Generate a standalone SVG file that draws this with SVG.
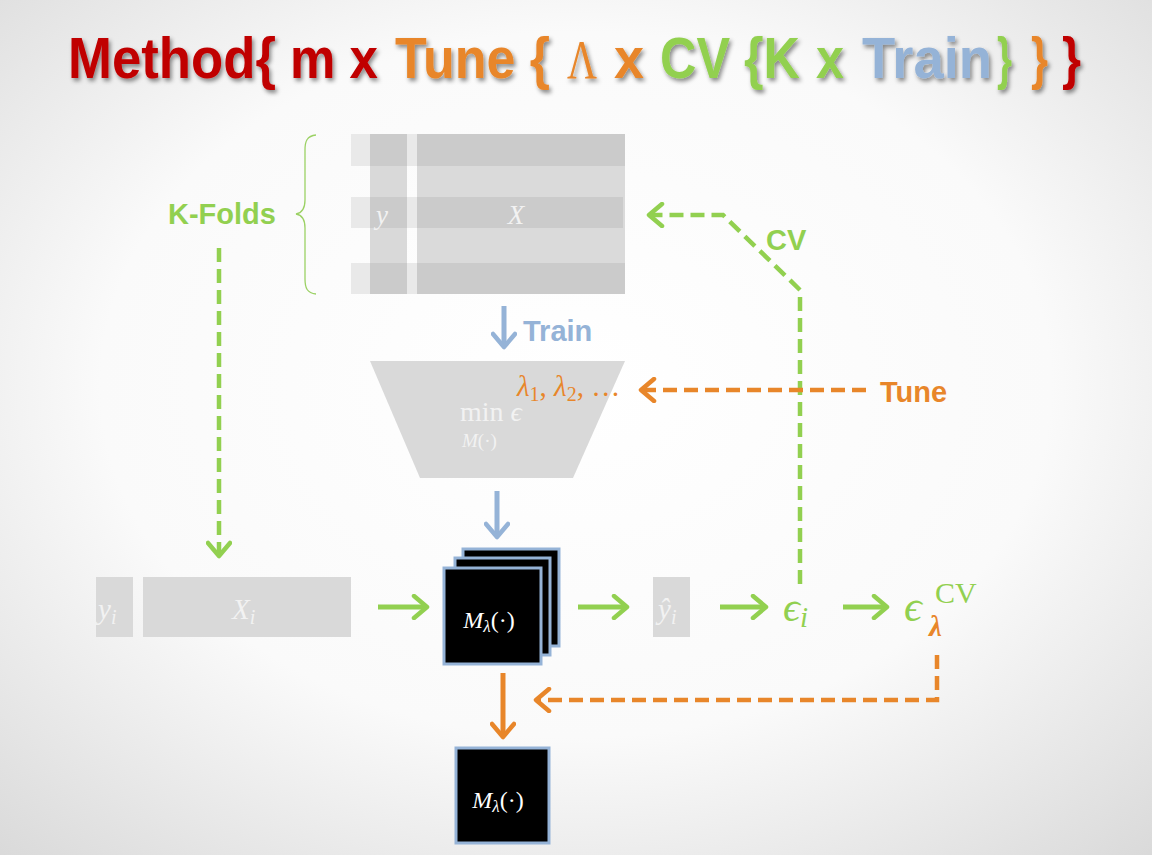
<svg xmlns="http://www.w3.org/2000/svg" width="1152" height="855" viewBox="0 0 1152 855">
<defs>
<radialGradient id="bg" cx="50%" cy="45%" r="75%">
<stop offset="0" stop-color="#ffffff"/>
<stop offset="0.55" stop-color="#fafafa"/>
<stop offset="1" stop-color="#d9d9d9"/>
</radialGradient>
<filter id="shadow" x="-10%" y="-20%" width="120%" height="150%">
<feDropShadow dx="2" dy="3" stdDeviation="2" flood-color="#000" flood-opacity="0.45"/>
</filter>
<marker id="hg" viewBox="0 0 20 26" refX="17" refY="13" markerWidth="20" markerHeight="26" markerUnits="userSpaceOnUse" orient="auto">
<path d="M4,2 L17,13 L4,24" fill="none" stroke="#92d050" stroke-width="4.5" stroke-linecap="round" stroke-linejoin="round"/>
</marker>
<marker id="ho" viewBox="0 0 20 26" refX="17" refY="13" markerWidth="20" markerHeight="26" markerUnits="userSpaceOnUse" orient="auto">
<path d="M4,2 L17,13 L4,24" fill="none" stroke="#e8862a" stroke-width="4.5" stroke-linecap="round" stroke-linejoin="round"/>
</marker>
<marker id="hb" viewBox="0 0 20 26" refX="17" refY="13" markerWidth="20" markerHeight="26" markerUnits="userSpaceOnUse" orient="auto">
<path d="M4,2 L17,13 L4,24" fill="none" stroke="#95b3d7" stroke-width="4.5" stroke-linecap="round" stroke-linejoin="round"/>
</marker>
</defs>
<style>
.lbl{font-family:"Liberation Sans","Arial",sans-serif;font-weight:bold;font-size:29px}
.ttl{font-family:"Liberation Sans",Arial,sans-serif;font-weight:bold;font-size:57px}
.math{font-family:"Liberation Serif","DejaVu Serif",serif}
.it{font-style:italic}
.cell{fill:#d9d9d9}
.model{fill:#000;stroke:#95b3d7;stroke-width:3}
.sg{fill:none;stroke:#92d050;stroke-width:5}
.so{fill:none;stroke:#e8862a;stroke-width:5}
.sb{fill:none;stroke:#95b3d7;stroke-width:5}
.dg{fill:none;stroke:#92d050;stroke-width:4.5;stroke-dasharray:14 7}
.do{fill:none;stroke:#e8862a;stroke-width:4.5;stroke-dasharray:14 7}
</style>
<rect width="1152" height="855" fill="url(#bg)"/>

<g id="title" filter="url(#shadow)">
<text class="ttl" x="68" y="78" textLength="208" lengthAdjust="spacingAndGlyphs" fill="#c00000">Method{</text>
<text class="ttl" x="290" y="78" textLength="88" lengthAdjust="spacingAndGlyphs" fill="#c00000">m x</text>
<text class="ttl" x="395" y="78" textLength="155" lengthAdjust="spacingAndGlyphs" fill="#e8862a">Tune {</text>
<text x="567" y="78" textLength="30" lengthAdjust="spacingAndGlyphs" font-family="'Liberation Serif',serif" font-size="54" fill="#e8862a">Λ</text>
<text class="ttl" x="614" y="78" textLength="30" lengthAdjust="spacingAndGlyphs" fill="#e8862a">x</text>
<text class="ttl" x="660" y="78" textLength="140" lengthAdjust="spacingAndGlyphs" fill="#92d050">CV {K</text>
<text class="ttl" x="816" y="78" textLength="28" lengthAdjust="spacingAndGlyphs" fill="#92d050">x</text>
<text class="ttl" x="862" y="78" textLength="130" lengthAdjust="spacingAndGlyphs" fill="#95b3d7">Train</text>
<text class="ttl" x="997" y="78" textLength="15" lengthAdjust="spacingAndGlyphs" fill="#92d050">}</text>
<text class="ttl" x="1031" y="78" textLength="17" lengthAdjust="spacingAndGlyphs" fill="#e8862a">}</text>
<text class="ttl" x="1062" y="78" textLength="19" lengthAdjust="spacingAndGlyphs" fill="#c00000">}</text>
</g>

<g id="data-matrix">
<rect x="370" y="134" width="37" height="160" fill="#d9d9d9"/>
<rect x="417" y="134" width="208" height="160" fill="#dadada"/>
<g fill="#e9e9e9">
<rect x="351" y="134" width="19" height="32"/>
<rect x="351" y="197" width="19" height="31"/>
<rect x="351" y="263" width="19" height="31"/>
<rect x="407" y="134" width="10" height="32"/>
<rect x="407" y="197" width="10" height="31"/>
<rect x="407" y="263" width="10" height="31"/>
</g>
<g fill="#cbcbcb">
<rect x="370" y="134" width="37" height="32"/>
<rect x="370" y="197" width="37" height="31"/>
<rect x="370" y="263" width="37" height="31"/>
<rect x="417" y="134" width="208" height="32"/>
<rect x="417" y="197" width="206" height="31"/>
<rect x="417" y="263" width="208" height="31"/>
</g>
<text class="math it" x="376" y="224" font-size="27" fill="#f2f2f2">y</text>
<text class="math it" x="516" y="224" font-size="27" fill="#f2f2f2" text-anchor="middle">X</text>
</g>

<g id="kfolds-brace">
<path d="M316,135 C307,136 305,141 305,150 L305,200 C305,209 302,213 296,214 C302,215 305,219 305,228 L305,279 C305,288 307,293 316,294" fill="none" stroke="#9bd164" stroke-width="1.3"/>
<text class="lbl" x="168" y="224" fill="#92d050">K-Folds</text>
</g>

<g id="train-label">
<text class="lbl" x="523" y="341" fill="#95b3d7">Train</text>
</g>

<g id="optimizer">
<polygon points="370,361 625,361 573,478 420,478" fill="#d9d9d9"/>
<text class="math" x="517" y="396" font-size="29" fill="#e8862a"><tspan font-style="italic">λ</tspan><tspan font-size="20" dy="5">1</tspan><tspan dy="-5">, </tspan><tspan font-style="italic">λ</tspan><tspan font-size="20" dy="5">2</tspan><tspan dy="-5">, …</tspan></text>
<text class="math" x="460" y="421" font-size="28" fill="#f2f2f2">min <tspan font-style="italic">ϵ</tspan></text>
<text class="math" x="462" y="447" font-size="19" fill="#f2f2f2"><tspan font-style="italic">M</tspan>(·)</text>
</g>

<g id="tune-label">
<text class="lbl" x="880" y="402" fill="#e8862a">Tune</text>
</g>
<g id="cv-label">
<text class="lbl" x="766" y="250" fill="#92d050" font-size="27">CV</text>
</g>

<g id="model-stack">
<rect class="model" x="463" y="549" width="96" height="97"/>
<rect class="model" x="455" y="558" width="95" height="97"/>
<rect class="model" x="444" y="568" width="97" height="96"/>
<text class="math" x="489" y="628" font-size="24" fill="#ffffff" text-anchor="middle"><tspan font-style="italic">M</tspan><tspan font-style="italic" font-size="17" dy="4">λ</tspan><tspan dy="-4">(·)</tspan></text>
</g>

<g id="final-model">
<rect class="model" x="456" y="748" width="93" height="95"/>
<text class="math" x="498" y="808" font-size="24" fill="#ffffff" text-anchor="middle"><tspan font-style="italic">M</tspan><tspan font-style="italic" font-size="17" dy="4">λ</tspan><tspan dy="-4">(·)</tspan></text>
</g>

<g id="fold-yi">
<rect class="cell" x="96" y="577" width="37" height="60"/>
<text class="math it" x="98" y="619" font-size="29" fill="#f2f2f2">y<tspan font-size="20" dy="5">i</tspan></text>
</g>
<g id="fold-Xi">
<rect class="cell" x="143" y="577" width="208" height="60"/>
<text class="math it" x="232" y="619" font-size="29" fill="#f2f2f2">X<tspan font-size="20" dy="5">i</tspan></text>
</g>
<g id="yhat">
<rect class="cell" x="653" y="577" width="37" height="60"/>
<text class="math it" x="658" y="619" font-size="29" fill="#f2f2f2">ŷ<tspan font-size="20" dy="5">i</tspan></text>
</g>
<g id="eps-i">
<text class="math" x="783" y="621" font-size="42" fill="#92d050"><tspan font-style="italic">ϵ</tspan><tspan font-style="italic" font-size="29" dy="6">i</tspan></text>
</g>
<g id="eps-cv">
<text class="math" x="904" y="621" font-size="44" fill="#92d050" font-style="italic">ϵ</text>
<text class="math" x="935" y="603" font-size="30" fill="#92d050">CV</text>
<text class="math" x="929" y="636" font-size="29" fill="#e8862a" font-weight="bold" font-style="italic">λ</text>
</g>

<g id="connectors">
<path class="dg" d="M219,248 L219,556" marker-end="url(#hg)"/>
<path class="sb" d="M504,306 L504,347" marker-end="url(#hb)"/>
<path class="sb" d="M497,491 L497,537" marker-end="url(#hb)"/>
<path class="sg" d="M378,607 L427,607" marker-end="url(#hg)"/>
<path class="sg" d="M578,607 L627,607" marker-end="url(#hg)"/>
<path class="sg" d="M720,607 L766,607" marker-end="url(#hg)"/>
<path class="sg" d="M843,607 L887,607" marker-end="url(#hg)"/>
<path class="dg" d="M800,584 L800,290 L723,215 L649,215" marker-end="url(#hg)"/>
<path class="do" d="M866,390 L641,390" marker-end="url(#ho)"/>
<path class="do" d="M937,655 L937,700 L536,700" marker-end="url(#ho)"/>
<path class="so" d="M503,673 L503,737" marker-end="url(#ho)"/>
</g>
</svg>
